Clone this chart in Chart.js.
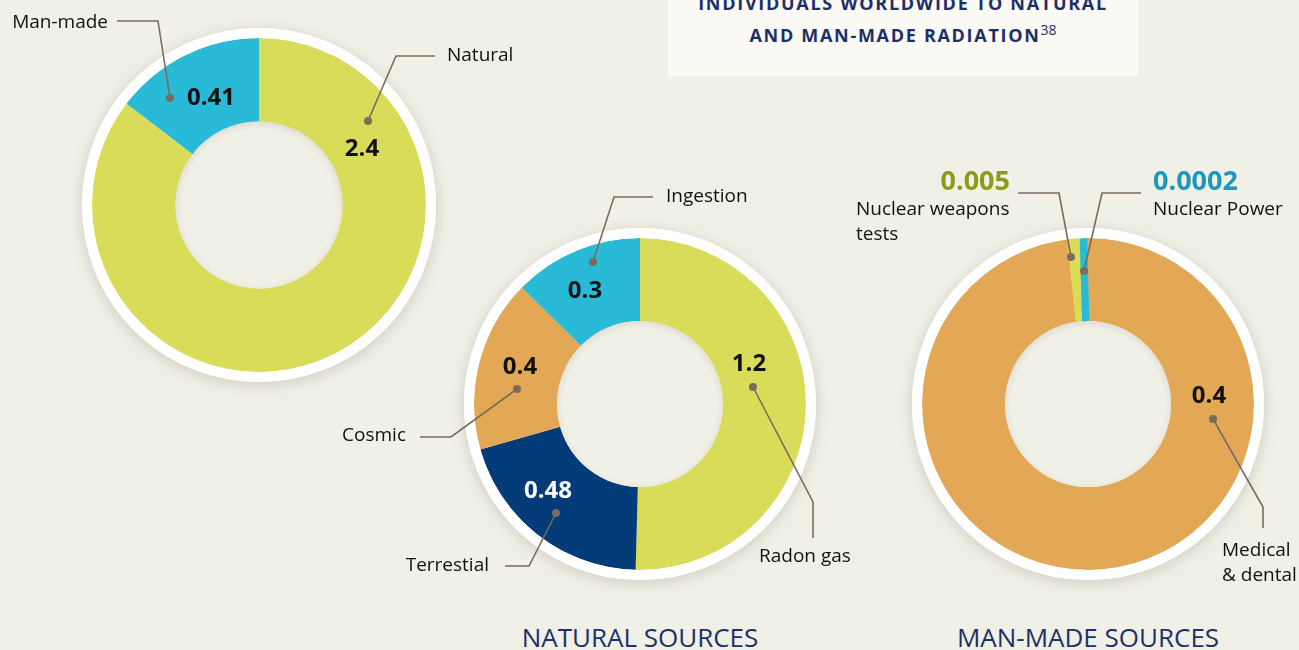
<!DOCTYPE html>
<html>
<head>
<meta charset="utf-8">
<title>Radiation doses</title>
<script src="https://cdn.jsdelivr.net/npm/chart.js@4.4.1/dist/chart.umd.min.js"></script>
<style>
  html, body { margin: 0; padding: 0; }
  body { width: 1299px; height: 650px; overflow: hidden; background: #f1f0e7; font-family: 'Open Sans', sans-serif; }
  #stage { position: relative; width: 1299px; height: 650px; }
  #stage canvas { position: absolute; left: 0; top: 0; }
  .title-box { position: absolute; left: 668px; top: 0; width: 470px; height: 76px; background: #fbfaf5; }
  .title-box div { position: absolute; left: 0; top: -13px; width: 100%; text-align: center; color: #1b2f6a;
    font-weight: 700; font-size: 18px; letter-spacing: 1.7px; line-height: 32px; }
  .title-box sup { font-weight: 400; font-size: 14px; letter-spacing: 0; line-height: 0; vertical-align: 7px; }
  .caption { position: absolute; top: 619px; width: 340px; text-align: center; color: #1c3267; font-size: 26px; }
</style>
</head>
<body>
<div id="stage">
  <div class="title-box">
    <div>INDIVIDUALS WORLDWIDE TO NATURAL<br>AND MAN-MADE RADIATION<sup>38</sup></div>
  </div>
  <div class="caption" style="left: 470px;">NATURAL SOURCES</div>
  <div class="caption" style="left: 918px;">MAN-MADE SOURCES</div>
  <canvas id="overviewChart" width="1299" height="650"></canvas>
  <canvas id="naturalChart" width="1299" height="650"></canvas>
  <canvas id="manMadeChart" width="1299" height="650"></canvas>
</div>
<script>
const W = 1299, H = 650;
const RING = 10;
const BG = '#f1f0e7';
const LEADER = '#7b6b5c';

const overviewLabels = ['Natural', 'Man-made'];
const overviewValues = [2.4, 0.41];
const overviewColors = ['#d9dc58', '#28bad7'];

const naturalLabels = ['Radon gas', 'Terrestial', 'Cosmic', 'Ingestion'];
const naturalValues = [1.2, 0.48, 0.4, 0.3];
const naturalColors = ['#d9dc58', '#033c78', '#e2a855', '#28bad7'];

const manMadeLabels = [['Medical', '& dental'], ['Nuclear weapons', 'tests'], ['Nuclear Power']];
const manMadeValues = [0.4, 0.005, 0.0002];
const manMadeColors = ['#e2a855', '#d9dc58', '#28bad7'];

// callout layout, offsets from the centre of each ring
const overviewNotes = [
  { value: [103, -57], dot: [109, -84], path: [[137, -149], [176, -149]], text: [188, -151], align: 'left' },
  { value: [-48, -108], dot: [-89, -107], path: [[-101, -184], [-142, -184]], text: [-151, -184], align: 'right' }
];
const naturalNotes = [
  { value: [109, -41], dot: [113, -17], path: [[173, 98], [173, 134]], text: [119, 151], align: 'left' },
  { value: [-92, 86], valueColor: '#ffffff', dot: [-84, 109], path: [[-111, 162], [-135, 162]], text: [-151, 160], align: 'right' },
  { value: [-120, -38], dot: [-123, -15], path: [[-189, 33], [-220, 33]], text: [-234, 30], align: 'right' },
  { value: [-55, -114], dot: [-47, -142], path: [[-26, -207], [13, -207]], text: [26, -209], align: 'left' }
];
const manMadeNotes = [
  { value: [121, -9], dot: [125, 15], path: [[175, 103], [175, 124]], text: [134, 145], align: 'left' },
  { value: [-78, -223], valueColor: '#8c9a17', valueAlign: 'right', valueSize: 27, dot: [-17, -147], path: [[-29, -211], [-70, -211]], text: [-232, -196], align: 'left' },
  { value: [65, -223], valueColor: '#1b98ba', valueAlign: 'left', valueSize: 27, dot: [-4, -133], path: [[14, -211], [53, -211]], text: [65, -196], align: 'left' }
];

function calloutPlugin(notes, labels, values) {
  return {
    id: 'callouts',
    beforeDatasetsDraw(chart) {
      const ctx = chart.ctx;
      const { x, y, outerRadius } = chart.getDatasetMeta(0).data[0];
      ctx.save();
      ctx.shadowColor = 'rgba(70, 60, 40, 0.22)';
      ctx.shadowBlur = 14;
      ctx.shadowOffsetY = 3;
      ctx.strokeStyle = '#ffffff';
      ctx.lineWidth = RING;
      ctx.beginPath();
      ctx.arc(x, y, outerRadius + RING / 2, 0, Math.PI * 2);
      ctx.stroke();
      ctx.restore();
    },
    afterDatasetsDraw(chart) {
      const ctx = chart.ctx;
      const { x, y, innerRadius, outerRadius } = chart.getDatasetMeta(0).data[0];

      // white rim again, over any widened slice edges
      ctx.save();
      ctx.strokeStyle = '#ffffff';
      ctx.lineWidth = RING;
      ctx.beginPath();
      ctx.arc(x, y, outerRadius + RING / 2, 0, Math.PI * 2);
      ctx.stroke();

      // the hole, with a soft inner shadow
      ctx.beginPath();
      ctx.arc(x, y, innerRadius, 0, Math.PI * 2);
      ctx.fillStyle = BG;
      ctx.fill();
      ctx.clip();
      ctx.shadowColor = 'rgba(70, 60, 40, 0.2)';
      ctx.shadowBlur = 10;
      ctx.shadowOffsetY = 2;
      ctx.strokeStyle = '#000000';
      ctx.lineWidth = 20;
      ctx.beginPath();
      ctx.arc(x, y, innerRadius + 12, 0, Math.PI * 2);
      ctx.stroke();
      ctx.restore();

      ctx.save();
      notes.forEach((n, i) => {
        ctx.strokeStyle = LEADER;
        ctx.lineWidth = 1.6;
        ctx.beginPath();
        ctx.moveTo(x + n.dot[0], y + n.dot[1]);
        n.path.forEach(p => ctx.lineTo(x + p[0], y + p[1]));
        ctx.stroke();
        ctx.fillStyle = LEADER;
        ctx.beginPath();
        ctx.arc(x + n.dot[0], y + n.dot[1], 4, 0, Math.PI * 2);
        ctx.fill();

        ctx.textBaseline = 'middle';
        ctx.font = '700 ' + (n.valueSize || 24) + 'px "Open Sans"';
        ctx.textAlign = n.valueAlign || 'center';
        ctx.fillStyle = n.valueColor || '#111111';
        ctx.fillText(String(values[i]), x + n.value[0], y + n.value[1] + 1);

        ctx.font = '19px "Open Sans"';
        ctx.textAlign = n.align;
        ctx.fillStyle = '#111111';
        [].concat(labels[i]).forEach((t, k) => {
          ctx.fillText(t, x + n.text[0], y + n.text[1] + 2 + k * 25);
        });
      });
      ctx.restore();
    }
  };
}

function makeRing(id, labels, values, colors, notes, cx, cy, r, borders, rotation) {
  const bw = borders ? Math.max(...borders) : 0;
  const half = r + bw / 2;
  return new Chart(document.getElementById(id), {
    type: 'doughnut',
    data: {
      labels: labels,
      datasets: [{
        data: values,
        backgroundColor: colors,
        borderColor: colors,
        borderWidth: borders || 0,
        hoverBorderWidth: borders || 0,
        hoverOffset: 0,
        rotation: rotation || 0
      }]
    },
    options: {
      responsive: false,
      animation: false,
      devicePixelRatio: 1,
      events: [],
      cutout: '50%',
      layout: {
        padding: { left: cx - half, top: cy - half, right: W - cx - half, bottom: H - cy - half }
      },
      plugins: {
        legend: { display: false },
        tooltip: { enabled: false }
      }
    },
    plugins: [calloutPlugin(notes, labels, values)]
  });
}

makeRing('overviewChart', overviewLabels, overviewValues, overviewColors, overviewNotes, 259, 205, 167);
makeRing('naturalChart', naturalLabels, naturalValues, naturalColors, naturalNotes, 640, 404, 166);
// the two tiny man-made slices get a stroke in their own colour so they stay visible
makeRing('manMadeChart', manMadeLabels, manMadeValues, manMadeColors, manMadeNotes, 1088, 404, 166, [0, 7, 7], -1.5);
</script>
</body>
</html>
